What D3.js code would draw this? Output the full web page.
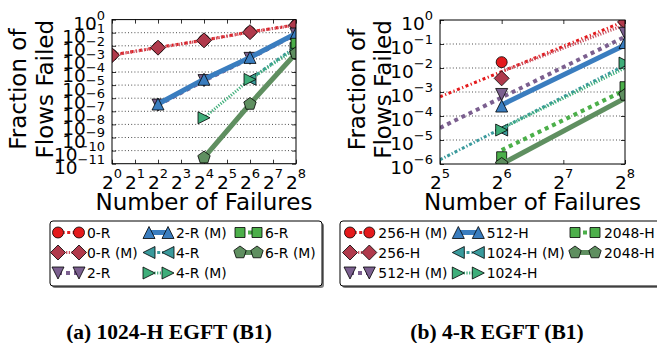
<!DOCTYPE html>
<html><head><meta charset="utf-8">
<script src="https://cdn.jsdelivr.net/npm/d3@7"></script>
<style>body{margin:0;background:#fff}svg{display:block}</style>
</head><body>
<svg id="c" width="657" height="343"></svg>
<script>
// ---------- DATA ----------
const leftXTickExp  = [0,1,2,3,4,5,6,7,8];
const leftYTickExp  = [0,-1,-2,-3,-4,-5,-6,-7,-8,-9,-10,-11];
const rightXTickExp = [5,6,7,8];
const rightYTickExp = [0,-1,-2,-3,-4,-5,-6];

const leftNames  = ["0-R","0-R (M)","2-R","2-R (M)","4-R","4-R (M)","6-R","6-R (M)"];
const rightNames = ["256-H (M)","256-H","512-H (M)","512-H","1024-H (M)","1024-H","2048-H","2048-H"];

// (a) 1024-H EGFT
const l0R_x  = [1,4,16,64,256];  const l0R_y  = [2.0e-3,7.5e-3,2.7e-2,1.15e-1,4.0e-1];
const l0RM_x = [1,4,16,64,256];  const l0RM_y = [1.9e-3,7.2e-3,2.6e-2,1.1e-1,3.8e-1];
const l2R_x  = [4,16,64,256];    const l2R_y  = [3.0e-7,2.2e-5,1.1e-3,7.9e-2];
const l2RM_x = [4,16,64,256];    const l2RM_y = [3.6e-7,2.8e-5,1.3e-3,8.9e-2];
const l4R_x  = [64,256];         const l4R_y  = [2.8e-5,8.9e-3];
const l4RM_x = [16,64,256];      const l4RM_y = [3.2e-8,2.7e-5,6.3e-3];
const l6R_x  = [256];            const l6R_y  = [1.55e-2];
const l6RM_x = [16,64,256];      const l6RM_y = [2.9e-11,3.6e-7,2.7e-3];

// (b) 4-R EGFT : fitted lines (l) and measured markers (m)
const r256HM_lx  = [32,256]; const r256HM_ly  = [6.3e-4,9.0e-1]; const r256HM_mx  = [64,256]; const r256HM_my  = [1.75e-2,9.5e-1];
const r256H_lx   = [64,256]; const r256H_ly   = [7.1e-3,6.3e-1]; const r256H_mx   = [64,256]; const r256H_my   = [3.7e-3,8.3e-1];
const r512HM_lx  = [32,256]; const r512HM_ly  = [3.2e-5,2.0e-1]; const r512HM_mx  = [64,256]; const r512HM_my  = [7.9e-4,2.8e-1];
const r512H_lx   = [64,256]; const r512H_ly   = [2.9e-4,9.1e-2]; const r512H_mx   = [64,256]; const r512H_my   = [2.6e-4,1.15e-1];
const r1024HM_lx = [32,256]; const r1024HM_ly = [1.5e-6,1.3e-2]; const r1024HM_mx = [64,256]; const r1024HM_my = [2.6e-5,1.6e-2];
const r1024H_lx  = [64,256]; const r1024H_ly  = [3.0e-5,1.0e-2]; const r1024H_mx  = [64,256]; const r1024H_my  = [2.6e-5,1.6e-2];
const r2048H_lx  = [64,256]; const r2048H_ly  = [3.8e-6,1.2e-3]; const r2048H_mx  = [64,256]; const r2048H_my  = [2.0e-6,1.66e-3];
const r2048HM_lx = [64,256]; const r2048HM_ly = [1.0e-6,5.5e-4]; const r2048HM_mx = [64,256]; const r2048HM_my = [1.0e-6,7.5e-4];

// ---------- STYLES ----------
const styles = [
  {shape:"circle",  fill:"#e41a1c", line:"#e41a1c", dash:"3,2.5,1.2,2.5", w:3},
  {shape:"diamond", fill:"#b03a4c", line:"#c9505f", dash:"1.2,1.5",       w:3},
  {shape:"down",    fill:"#7b5f8f", line:"#7b5f8f", dash:"4,4",           w:4},
  {shape:"up",      fill:"#3a7dbf", line:"#3a7dbf", dash:null,            w:5},
  {shape:"left",    fill:"#3a9a9c", line:"#3a9a9c", dash:"3,2,1.2,2",     w:3},
  {shape:"right",   fill:"#3fae7a", line:"#3fae7a", dash:"1.2,1.5",       w:3},
  {shape:"square",  fill:"#4caf4a", line:"#4caf4a", dash:"4,4",           w:4},
  {shape:"pent",    fill:"#5f8f60", line:"#5f8f60", dash:null,            w:5}
];

const zip = (a,b)=>a.map((v,i)=>[v,b[i]]);
const leftSeries = [
  {l:zip(l0R_x,l0R_y),   m:zip(l0R_x,l0R_y)},
  {l:zip(l0RM_x,l0RM_y), m:zip(l0RM_x,l0RM_y)},
  {l:zip(l2R_x,l2R_y),   m:zip(l2R_x,l2R_y)},
  {l:zip(l2RM_x,l2RM_y), m:zip(l2RM_x,l2RM_y)},
  {l:zip(l4R_x,l4R_y),   m:zip(l4R_x,l4R_y)},
  {l:zip(l4RM_x,l4RM_y), m:zip(l4RM_x,l4RM_y)},
  {l:zip(l6R_x,l6R_y),   m:zip(l6R_x,l6R_y)},
  {l:zip(l6RM_x,l6RM_y), m:zip(l6RM_x,l6RM_y)}
];
const rightSeries = [
  {l:zip(r256HM_lx,r256HM_ly),   m:zip(r256HM_mx,r256HM_my)},
  {l:zip(r256H_lx,r256H_ly),     m:zip(r256H_mx,r256H_my)},
  {l:zip(r512HM_lx,r512HM_ly),   m:zip(r512HM_mx,r512HM_my)},
  {l:zip(r512H_lx,r512H_ly),     m:zip(r512H_mx,r512H_my)},
  {l:zip(r1024HM_lx,r1024HM_ly), m:zip(r1024HM_mx,r1024HM_my)},
  {l:zip(r1024H_lx,r1024H_ly),   m:zip(r1024H_mx,r1024H_my)},
  {l:zip(r2048H_lx,r2048H_ly),   m:zip(r2048H_mx,r2048H_my)},
  {l:zip(r2048HM_lx,r2048HM_ly), m:zip(r2048HM_mx,r2048HM_my)}
];

// ---------- DRAW ----------
const svg = d3.select("#c");
const FONT = "'DejaVu Sans', sans-serif";

function markerPath(shape){
  switch(shape){
    case "circle": { const r=5.5; return `M${r},0A${r},${r} 0 1,1 ${-r},0A${r},${r} 0 1,1 ${r},0Z`; }
    case "diamond":{ const s=7.5; return `M0,${-s}L${s},0L0,${s}L${-s},0Z`; }
    case "up":     { const s=6;   return `M0,${-s}L${s},${s}L${-s},${s}Z`; }
    case "down":   { const s=6;   return `M0,${s}L${s},${-s}L${-s},${-s}Z`; }
    case "left":   { const s=6;   return `M${-s},0L${s},${-s}L${s},${s}Z`; }
    case "right":  { const s=6;   return `M${s},0L${-s},${-s}L${-s},${s}Z`; }
    case "square": { const s=5;   return `M${-s},${-s}H${s}V${s}H${-s}Z`; }
    case "pent":   { const r=6.5; let p=[]; for(let i=0;i<5;i++){const a=-Math.PI/2+i*2*Math.PI/5;p.push([r*Math.cos(a),r*Math.sin(a)]);} return "M"+p.map(q=>q.join(",")).join("L")+"Z"; }
  }
}
function expStr(e){ return e<0 ? "\u2212"+(-e) : ""+e; }
function supText(g,x,y,base,exp,anchor){
  const t=g.append("text").attr("x",x).attr("y",y).attr("text-anchor",anchor)
    .style("font-family",FONT).style("font-size","18.5px").attr("fill","#000");
  t.append("tspan").text(base);
  t.append("tspan").attr("dy",-10.5).style("font-size","13px").text(exp);
}

function panel(cfg){
  const x = d3.scaleLog().base(2).domain(cfg.xdom).range([cfg.x0,cfg.x1]);
  const y = d3.scaleLog().base(10).domain(cfg.ydom).range([cfg.y1,cfg.y0]);
  const g = svg.append("g");
  const cid = "clip"+cfg.id;
  g.append("clipPath").attr("id",cid).append("rect")
    .attr("x",cfg.x0).attr("y",cfg.y0).attr("width",cfg.x1-cfg.x0).attr("height",cfg.y1-cfg.y0);
  const yTicks = cfg.yexp.map(e=>Math.pow(10,e));
  const xTicks = cfg.xexp.map(e=>Math.pow(2,e));
  // grid
  g.append("g").selectAll("line").data(yTicks.filter(v=>v<cfg.ydom[1]&&v>cfg.ydom[0])).join("line")
    .attr("x1",cfg.x0).attr("x2",cfg.x1).attr("y1",d=>y(d)).attr("y2",d=>y(d))
    .attr("stroke","#000").attr("stroke-width",0.7).attr("stroke-dasharray","1,2.2");
  // ticks (inside) on all sides via d3 axes
  g.append("g").attr("transform",`translate(0,${cfg.y1})`).call(d3.axisTop(x).tickValues(xTicks).tickSizeInner(4).tickSizeOuter(0).tickFormat(""));
  g.append("g").attr("transform",`translate(0,${cfg.y0})`).call(d3.axisBottom(x).tickValues(xTicks).tickSizeInner(4).tickSizeOuter(0).tickFormat(""));
  g.append("g").attr("transform",`translate(${cfg.x0},0)`).call(d3.axisRight(y).tickValues(yTicks).tickSizeInner(4).tickSizeOuter(0).tickFormat(""));
  g.append("g").attr("transform",`translate(${cfg.x1},0)`).call(d3.axisLeft(y).tickValues(yTicks).tickSizeInner(4).tickSizeOuter(0).tickFormat(""));
  g.selectAll(".domain").remove();
  g.selectAll(".tick line").attr("stroke","#000").attr("stroke-width",0.8);
  // data
  const plot = g.append("g").attr("clip-path",`url(#${cid})`);
  const line = d3.line().x(d=>x(d[0])).y(d=>y(d[1]));
  cfg.series.forEach((s,i)=>{
    const st = styles[i];
    if(s.l.length>1){
      plot.append("path").attr("d",line(s.l)).attr("fill","none").attr("stroke",st.line)
        .attr("stroke-width",st.w).attr("stroke-dasharray",st.dash);
    }
    plot.append("g").selectAll("path").data(s.m).join("path")
      .attr("transform",d=>`translate(${x(d[0])},${y(d[1])})`)
      .attr("d",markerPath(st.shape)).attr("fill",st.fill).attr("stroke","#000").attr("stroke-width",0.8);
  });
  // frame
  g.append("rect").attr("x",cfg.x0).attr("y",cfg.y0).attr("width",cfg.x1-cfg.x0).attr("height",cfg.y1-cfg.y0)
    .attr("fill","none").attr("stroke","#000").attr("stroke-width",1);
  // tick labels
  cfg.xexp.forEach(e=> supText(g, x(Math.pow(2,e)), cfg.y1+24.8, "2", expStr(e), "middle"));
  cfg.yexp.forEach(e=> supText(g, cfg.x0-7, y(Math.pow(10,e))+10.4, "10", expStr(e), "end"));
  // axis titles
  g.append("text").attr("x",(cfg.x0+cfg.x1)/2).attr("y",210).attr("text-anchor","middle")
    .style("font-family",FONT).style("font-size","23px").text("Number of Failures");
  const cy = (cfg.y0+cfg.y1)/2 - 2.5;
  [["Fraction of",cfg.t1],["Flows Failed",cfg.t2]].forEach(([txt,bx])=>{
    g.append("text").attr("transform",`translate(${bx},${cy}) rotate(-90)`).attr("text-anchor","middle")
      .style("font-family",FONT).style("font-size","23px").text(txt);
  });
  // legend
  const L = cfg.leg;
  const lg = svg.append("g");
  lg.append("rect").attr("x",L.x+2).attr("y",L.y+2).attr("width",L.w).attr("height",L.h).attr("rx",3)
    .attr("fill","rgba(0,0,0,0.5)");
  lg.append("rect").attr("x",L.x).attr("y",L.y).attr("width",L.w).attr("height",L.h).attr("rx",3)
    .attr("fill","#fff").attr("stroke","#000").attr("stroke-width",1);
  cfg.names.forEach((nm,i)=>{
    const col = Math.floor(i/3), row = i%3;
    const st = styles[i];
    const [m1,m2,tx] = L.cols[col];
    const ry = L.rows[row];
    lg.append("line").attr("x1",m1).attr("x2",m2).attr("y1",ry).attr("y2",ry)
      .attr("stroke",st.line).attr("stroke-width",st.w).attr("stroke-dasharray",st.dash);
    [m1,m2].forEach(mx=> lg.append("path").attr("transform",`translate(${mx},${ry})`)
      .attr("d",markerPath(st.shape)).attr("fill",st.fill).attr("stroke","#000").attr("stroke-width",0.8));
    lg.append("text").attr("x",tx).attr("y",ry+5.1).style("font-family",FONT).style("font-size","13.9px").text(nm);
  });
  // caption
  svg.append("text").attr("x",cfg.capX).attr("y",339).attr("text-anchor","middle")
    .style("font-family","'Liberation Serif', 'Times New Roman', serif").style("font-weight","bold")
    .style("font-size","21.5px").text(cfg.caption);
}

panel({id:"a", x0:112, x1:296, y0:19.6, y1:163.7, xdom:[1,256], ydom:[1e-11,1],
  xexp:leftXTickExp, yexp:leftYTickExp, series:leftSeries, names:leftNames, t1:26, t2:53,
  leg:{x:50, y:221, w:272, h:65, rows:[232.5,252.5,273], cols:[[58,79,87],[149,168,176],[240,257,265]]},
  caption:"(a) 1024-H EGFT (B1)", capX:169});
panel({id:"b", x0:440, x1:625, y0:20, y1:164, xdom:[32,256], ydom:[1e-6,1],
  xexp:rightXTickExp, yexp:rightYTickExp, series:rightSeries, names:rightNames, t1:365, t2:391,
  leg:{x:340, y:221, w:330, h:65, rows:[232.5,252.5,273], cols:[[350,369.3,378.3],[458.3,478.3,486.7],[575,595,604]]},
  caption:"(b) 4-R EGFT (B1)", capX:497});
</script>
</body></html>
